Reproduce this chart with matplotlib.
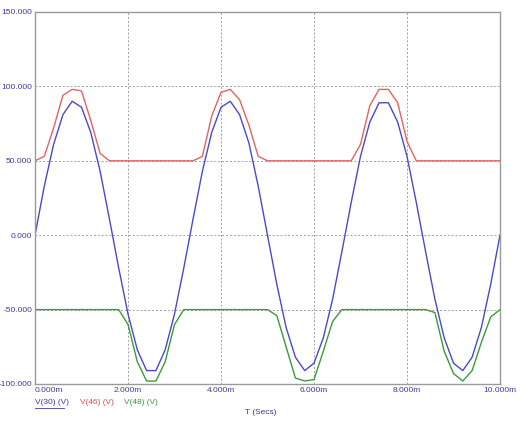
import numpy as np
import matplotlib
matplotlib.use("Agg")
import matplotlib.pyplot as plt

# time in ms, sampled every 0.2 ms
t_ms = [0.0, 0.2, 0.4, 0.6, 0.8, 1.0, 1.2, 1.4, 1.6, 1.8,
        2.0, 2.2, 2.4, 2.6, 2.8, 3.0, 3.2, 3.4, 3.6, 3.8,
        4.0, 4.2, 4.4, 4.6, 4.8, 5.0, 5.2, 5.4, 5.6, 5.8,
        6.0, 6.2, 6.4, 6.6, 6.8, 7.0, 7.2, 7.4, 7.6, 7.8,
        8.0, 8.2, 8.4, 8.6, 8.8, 9.0, 9.2, 9.4, 9.6, 9.8, 10.0]

# V(30) - input
v30 = [0, 33, 61, 81, 90, 86, 69, 43, 11, -22,
       -53, -77, -91, -91, -77, -53, -22, 11, 43, 69,
       86, 90, 81, 62, 33, 0, -33, -62, -82, -91,
       -86, -69, -43, -11, 22, 53, 76, 89, 89, 76,
       53, 22, -11, -43, -69, -86, -91, -82, -62, -33, 0]

# V(46) - upper clipped
v46 = [50, 53, 72, 94, 98, 97, 77, 55, 50, 50,
       50, 50, 50, 50, 50, 50, 50, 50, 53, 80,
       96, 98, 91, 74, 53, 50, 50, 50, 50, 50,
       50, 50, 50, 50, 50, 61, 87, 98, 98, 89,
       63, 50, 50, 50, 50, 50, 50, 50, 50, 50, 50]

# V(48) - lower clipped
v48 = [-50, -50, -50, -50, -50, -50, -50, -50, -50, -50,
       -60, -85, -98, -98, -85, -60, -50, -50, -50, -50,
       -50, -50, -50, -50, -50, -50, -54, -75, -96, -98,
       -97, -78, -58, -50, -50, -50, -50, -50, -50, -50,
       -50, -50, -50, -52, -78, -93, -98, -91, -72, -55, -50]

xticks = [0, 2, 4, 6, 8, 10]
xtick_labels = ["0.000m", "2.000m", "4.000m", "6.000m", "8.000m", "10.000m"]
yticks = [-100, -50, 0, 50, 100, 150]
ytick_labels = ["-100.000", "-50.000", "0.000", "50.000", "100.000", "150.000"]

plt.rcParams['font.family'] = ['Liberation Sans', 'DejaVu Sans']
tick_col = "#3a3aa0"

fig = plt.figure(figsize=(5.2, 4.22), dpi=100)
ax = fig.add_axes([35 / 520, 1 - 384 / 422, 465 / 520, 372 / 422])

ax.plot(t_ms, v46, color="#e06464", linewidth=1.0)
ax.plot(t_ms, v48, color="#3c9a3c", linewidth=1.0)
ax.plot(t_ms, v30, color="#4a4ac8", linewidth=1.0)

ax.set_xlim(0, 10)
ax.set_ylim(-100, 150)
ax.set_xticks(xticks)
ax.set_xticklabels(xtick_labels)
ax.set_yticks(yticks)
ax.set_yticklabels(ytick_labels)
ax.get_xticklabels()[0].set_horizontalalignment("left")
ax.tick_params(length=0, labelsize=6, labelcolor=tick_col, pad=2)

ax.grid(True, color="#a0a0a0", linestyle=(0, (2, 2)), linewidth=0.7)
for s in ax.spines.values():
    s.set_color("#9a9a9a")
    s.set_linewidth(1.0)

fig.text(35 / 520, 1 - 403 / 422, "V(30) (V)", color="#3a3aa0", fontsize=6,
         va="center", ha="left")
fig.add_artist(plt.Line2D([35 / 520, 64 / 520], [1 - 408 / 422, 1 - 408 / 422],
                          color="#3a3aa0", linewidth=0.6))
fig.text(80 / 520, 1 - 403 / 422, "V(46) (V)", color="#d05050", fontsize=6,
         va="center", ha="left")
fig.text(124 / 520, 1 - 403 / 422, "V(48) (V)", color="#3c9a3c", fontsize=6,
         va="center", ha="left")
fig.text(261 / 520, 1 - 412 / 422, "T (Secs)", color="#3a3aa0", fontsize=6,
         va="center", ha="center")

plt.savefig("out.png", dpi=100)
